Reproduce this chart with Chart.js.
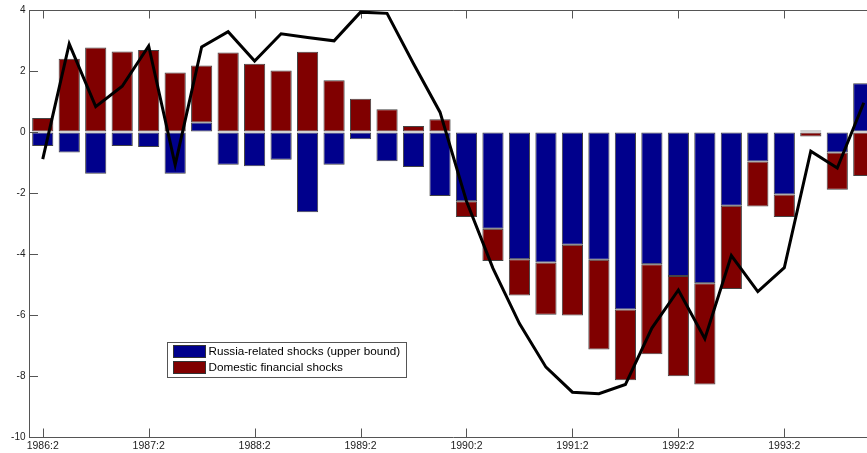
<!DOCTYPE html>
<html>
<head>
<meta charset="utf-8">
<script src="https://cdn.jsdelivr.net/npm/chart.js@4/dist/chart.umd.min.js"></script>
<style>
  html, body { margin: 0; padding: 0; background: #fff; overflow: hidden; width: 867px; height: 453px; }
  #wrap { width: 878px; height: 453px; }
</style>
</head>
<body>
<div id="wrap"><canvas id="c" width="878" height="453"></canvas></div>
<script>
// Quarterly decomposition, 1986:2 – 1994:1
const quarters = [
  '1986:2','1986:3','1986:4','1987:1','1987:2','1987:3','1987:4','1988:1',
  '1988:2','1988:3','1988:4','1989:1','1989:2','1989:3','1989:4','1990:1',
  '1990:2','1990:3','1990:4','1991:1','1991:2','1991:3','1991:4','1992:1',
  '1992:2','1992:3','1992:4','1993:1','1993:2','1993:3','1993:4','1994:1'
];

const russiaShocks = [
  -0.46, -0.67, -1.37, -0.46, -0.49, -1.37, 0.31, -1.07,
  -1.12, -0.91, -2.63, -1.07, -0.24, -0.96, -1.15, -2.10,
  -2.27, -3.17, -4.17, -4.28, -3.70, -4.19, -5.82, -4.34,
  -4.72, -4.96, -2.42, -0.97, -2.05, 0.05, -0.67, 1.60
];

const domesticShocks = [
  0.46, 2.40, 2.77, 2.64, 2.69, 1.95, 1.87, 2.61,
  2.24, 2.02, 2.63, 1.70, 1.09, 0.75, 0.20, 0.42,
  -0.52, -1.06, -1.19, -1.71, -2.32, -2.94, -2.32, -2.95,
  -3.29, -3.32, -2.73, -1.47, -0.74, -0.15, -1.22, -1.44
];

const totalLine = [
  -0.89, 2.89, 0.83, 1.50, 2.82, -1.08, 2.79, 3.29,
  2.33, 3.22, 3.10, 2.99, 3.93, 3.89, 2.24, 0.65,
  -2.27, -4.47, -6.28, -7.71, -8.53, -8.58, -8.28, -6.43,
  -5.18, -6.78, -4.05, -5.23, -4.45, -0.63, -1.18, 0.96
];

const yTicks = [-10, -8, -6, -4, -2, 0, 2, 4];
const seriesLabels = ['Russia-related shocks (upper bound)', 'Domestic financial shocks'];

const AXIS_COLOR = '#555';
const TICK_LEN = 8.5;

// Inward tick marks on bottom, top and left, plus the top frame line
const frameTicks = {
  id: 'frameTicks',
  beforeDatasetsDraw(chart) {
    const { ctx, chartArea: a, scales: { x, y } } = chart;
    ctx.save();
    ctx.strokeStyle = AXIS_COLOR;
    ctx.lineWidth = 1;
    ctx.beginPath();
    ctx.moveTo(a.left, Math.round(a.top) + 0.5);
    ctx.lineTo(a.right, Math.round(a.top) + 0.5);
    quarters.forEach((q, i) => {
      if (!q.endsWith(':2')) return;
      const px = Math.round(x.getPixelForValue(i)) + 0.5;
      ctx.moveTo(px, a.bottom);
      ctx.lineTo(px, a.bottom - TICK_LEN);
      ctx.moveTo(px, a.top);
      ctx.lineTo(px, a.top + TICK_LEN);
    });
    yTicks.forEach(v => {
      const py = Math.round(y.getPixelForValue(v)) + 0.5;
      ctx.moveTo(a.left, py);
      ctx.lineTo(a.left + TICK_LEN, py);
    });
    ctx.stroke();
    ctx.restore();
  }
};

// Boxed legend sitting inside the plot area
const boxLegend = {
  id: 'boxLegend',
  afterDraw(chart) {
    const { ctx } = chart;
    const bx = 167.5, by = 342.5, bw = 239, bh = 35;
    ctx.save();
    ctx.fillStyle = '#fff';
    ctx.fillRect(bx, by, bw, bh);
    ctx.strokeStyle = AXIS_COLOR;
    ctx.lineWidth = 1;
    ctx.strokeRect(bx, by, bw, bh);
    ctx.font = '11.7px "Liberation Sans", Arial, sans-serif';
    ctx.textBaseline = 'middle';
    const items = chart.data.datasets.filter(d => d.type === 'bar');
    items.forEach((d, i) => {
      const sy = 345.5 + i * 16;
      ctx.fillStyle = d.backgroundColor;
      ctx.fillRect(173.5, sy, 32, 12);
      ctx.strokeStyle = '#333';
      ctx.strokeRect(173.5, sy, 32, 12);
      ctx.fillStyle = '#000';
      ctx.fillText(d.label, 208.5, sy + 6.5);
    });
    ctx.restore();
  }
};

new Chart(document.getElementById('c'), {
  data: {
    labels: quarters,
    datasets: [
      {
        type: 'line',
        label: 'Total',
        data: totalLine,
        borderColor: '#000',
        borderWidth: 3,
        pointRadius: 0,
        tension: 0,
        fill: false,
        stack: 'line',
        order: 0
      },
      {
        type: 'bar',
        label: seriesLabels[0],
        data: russiaShocks,
        backgroundColor: 'rgb(0,0,140)',
        borderColor: '#444',
        borderWidth: 1,
        borderSkipped: false,
        stack: 'shocks',
        order: 1
      },
      {
        type: 'bar',
        label: seriesLabels[1],
        data: domesticShocks,
        backgroundColor: 'rgb(128,0,0)',
        borderColor: '#444',
        borderWidth: 1,
        borderSkipped: false,
        stack: 'shocks',
        order: 1
      }
    ]
  },
  options: {
    responsive: false,
    animation: false,
    layout: { padding: { top: 10, right: 1, left: 0, bottom: 0 } },
    datasets: { bar: { barPercentage: 0.8, categoryPercentage: 1.0 } },
    plugins: { legend: { display: false }, tooltip: { enabled: false } },
    scales: {
      x: {
        stacked: true,
        offset: true,
        grid: { display: true, drawOnChartArea: false, drawTicks: false },
        border: { display: true, color: AXIS_COLOR, width: 1 },
        ticks: {
          autoSkip: false,
          maxRotation: 0,
          padding: 3,
          color: '#222',
          font: { family: '"Liberation Sans", Arial, sans-serif', size: 10.5 },
          callback: (v, i) => quarters[i].endsWith(':2') ? quarters[i] : null
        },
        afterFit: s => { s.height = 16; }
      },
      y: {
        stacked: true,
        min: -10,
        max: 4,
        grid: { display: true, drawOnChartArea: false, drawTicks: false },
        border: { display: true, color: AXIS_COLOR, width: 1 },
        afterBuildTicks: s => { s.ticks = yTicks.map(v => ({ value: v })); },
        ticks: {
          padding: 4,
          color: '#222',
          font: { family: '"Liberation Sans", Arial, sans-serif', size: 10 }
        },
        afterFit: s => { s.width = 29.5; }
      }
    }
  },
  plugins: [frameTicks, boxLegend]
});
</script>
</body>
</html>
